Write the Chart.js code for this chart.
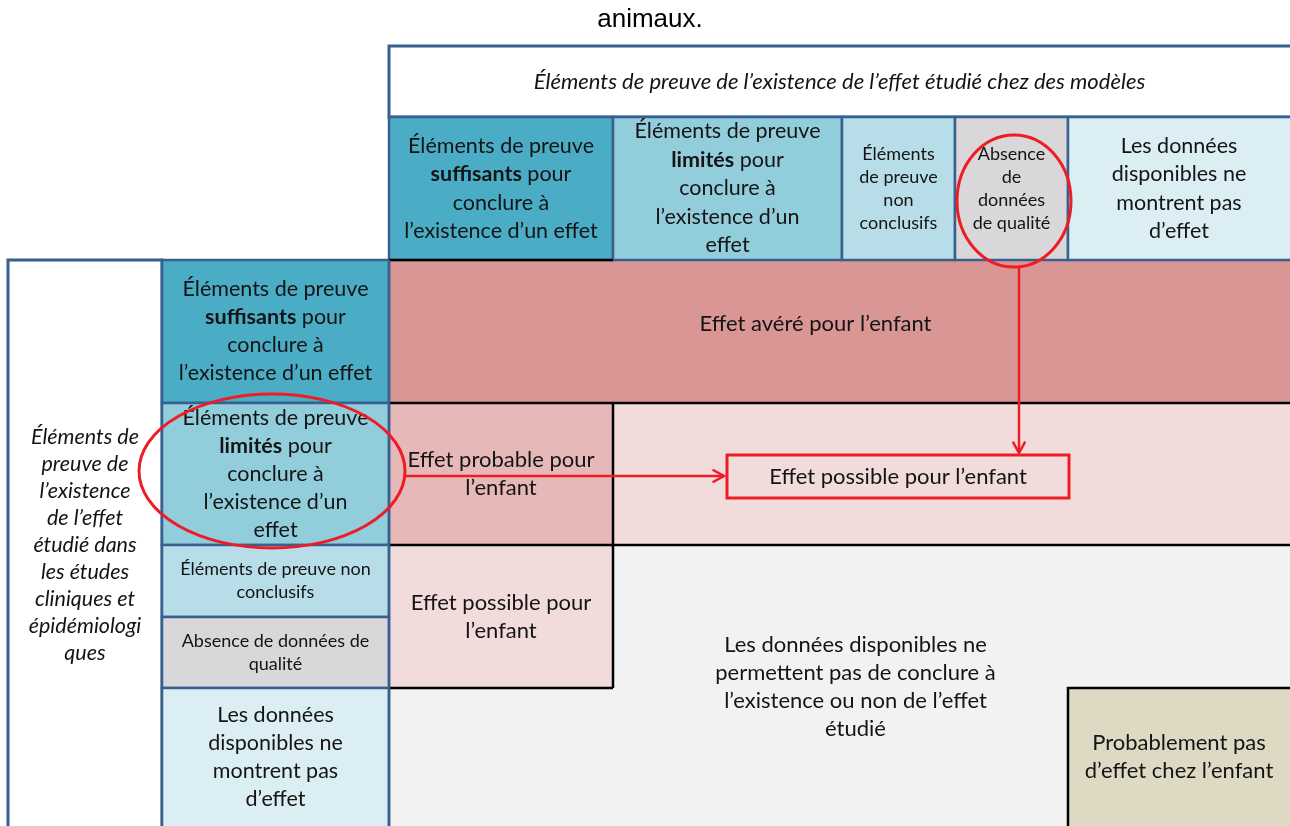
<!doctype html>
<html>
<head>
<meta charset="utf-8">
<title>Conclusion sur l'effet pour l'enfant</title>
<script src="https://cdn.jsdelivr.net/npm/chart.js@4/dist/chart.umd.min.js"></script>
<style>
html, body { margin: 0; padding: 0; background: #fff; }
canvas { display: block; }
</style>
</head>
<body>
<canvas id="canvas" width="1290" height="826"></canvas>
<script>
// ---- texts (data) ----
var pageTitle = 'animaux.';
var animalAxisTitle = 'Éléments de preuve de l’existence de l’effet étudié chez des modèles';
var humanAxisTitle = ['Éléments de', 'preuve de', 'l’existence', 'de l’effet', 'étudié dans',
    'les études', 'cliniques et', 'épidémiologi', 'ques'];

// levels of evidence, *word* = bold
var animalLevels = [
    ['Éléments de preuve', '*suffisants* pour', 'conclure à', 'l’existence d’un effet'],
    ['Éléments de preuve', '*limités* pour', 'conclure à', 'l’existence d’un', 'effet'],
    ['Éléments', 'de preuve', 'non', 'conclusifs'],
    ['Absence', 'de', 'données', 'de qualité'],
    ['Les données', 'disponibles ne', 'montrent pas', 'd’effet']
];
var humanLevels = [
    ['Éléments de preuve', '*suffisants* pour', 'conclure à', 'l’existence d’un effet'],
    ['Éléments de preuve', '*limités* pour', 'conclure à', 'l’existence d’un', 'effet'],
    ['Éléments de preuve non', 'conclusifs'],
    ['Absence de données de', 'qualité'],
    ['Les données', 'disponibles ne', 'montrent pas', 'd’effet']
];
var levelSmall = [false, false, true, true, false];

// conclusions: animal columns [from, to], human rows [from, to]
var conclusionTexts = [
    ['Effet avéré pour l’enfant'],
    ['Effet probable pour', 'l’enfant'],
    [],
    ['Effet possible pour', 'l’enfant'],
    ['Les données disponibles ne', 'permettent pas de conclure à', 'l’existence ou non de l’effet', 'étudié'],
    ['Probablement pas', 'd’effet chez l’enfant']
];
var conclusionCols = [[0, 4], [0, 0], [1, 4], [0, 0], [1, 3], [4, 4]];
var conclusionRows = [[0, 0], [1, 1], [1, 1], [2, 3], [2, 4], [4, 4]];
var highlightText = ['Effet possible pour l’enfant'];

// ---- layout & styles ----
var layout = {
    xEdges: [8, 162, 389, 613, 842, 955, 1068, 1290],   // axis title, row levels, 5 columns
    yEdges: [46, 117, 260, 403, 545, 617, 688, 826],    // title, column levels, 5 rows
    highlightBox: [727, 455, 1069, 498],
    ellipses: [[1014, 201, 57, 66], [272, 471, 133, 77]],
    labelShift: [[-24, -8], [0, 0], [0, 0], [0, 0], [15, 1], [0, 0]]
};
var levelFills = ['#4bacc6', '#92cddc', '#b7dee8', '#d9d7d9', '#daeef3'];
var conclusionFills = ['#d99694', '#e6b9b8', '#f2dcdb', '#f2dcdb', null, '#ddd9c3'];
var bodyFill = '#f2f2f2';
var blue = '#37608f';
var red = '#ee1c25';
var FONT = 'Lato, "Open Sans", sans-serif';

// arrows (drawn as line datasets)
var arrowDown = [{x: 1019, y: 268}, {x: 1019, y: 453}];
var arrowRight = [{x: 405, y: 476}, {x: 724, y: 476}];

function drawRich(ctx, line, cx, y, size, italic) {
    var parts = line.split('*');
    var fonts = [], widths = [], total = 0;
    parts.forEach(function(p, i) {
        fonts.push((italic ? 'italic ' : '') + (i % 2 ? 'bold ' : '') + size + 'px ' + FONT);
        ctx.font = fonts[i];
        var w = ctx.measureText(p).width;
        widths.push(w);
        total += w;
    });
    var x = cx - total / 2;
    ctx.textAlign = 'left';
    ctx.textBaseline = 'middle';
    parts.forEach(function(p, i) {
        ctx.font = fonts[i];
        ctx.fillText(p, x, y);
        x += widths[i];
    });
}

function drawBlock(ctx, lines, cx, cy, size, lh, italic) {
    var y0 = cy - (lines.length - 1) * lh / 2;
    ctx.fillStyle = '#141414';
    lines.forEach(function(l, i) {
        drawRich(ctx, l, cx, y0 + i * lh, size, italic);
    });
}

var matrixPlugin = {
    id: 'matrix',
    beforeDatasetsDraw: function(chart) {
        var ctx = chart.ctx;
        var sx = chart.scales.x, sy = chart.scales.y;
        var X = function(v) { return sx.getPixelForValue(v); };
        var Y = function(v) { return sy.getPixelForValue(v); };
        var xe = layout.xEdges, ye = layout.yEdges;
        var rect = function(x0, y0, x1, y1) { return [X(x0), Y(y0), X(x1) - X(x0), Y(y1) - Y(y0)]; };

        ctx.save();
        // page title
        ctx.fillStyle = '#000';
        ctx.font = '26px "Liberation Sans", Arial, sans-serif';
        ctx.textAlign = 'center';
        ctx.textBaseline = 'middle';
        ctx.fillText(pageTitle, X(650), Y(20));

        // body background
        ctx.fillStyle = bodyFill;
        ctx.fillRect.apply(ctx, rect(xe[2], ye[2], xe[7], ye[7]));

        // conclusion cells
        conclusionTexts.forEach(function(t, i) {
            var c = conclusionCols[i], r = conclusionRows[i];
            var x0 = xe[2 + c[0]], x1 = xe[3 + c[1]], y0 = ye[2 + r[0]], y1 = ye[3 + r[1]];
            if (conclusionFills[i]) {
                ctx.fillStyle = conclusionFills[i];
                ctx.fillRect.apply(ctx, rect(x0, y0, x1, y1));
            }
        });

        // title boxes
        ctx.fillStyle = '#fff';
        ctx.strokeStyle = blue;
        ctx.lineWidth = 3;
        var tb = rect(xe[2], ye[0], xe[7] + 4, ye[1]);
        ctx.fillRect.apply(ctx, tb);
        ctx.strokeRect.apply(ctx, tb);
        var lb = rect(xe[0], ye[2], xe[1], ye[7] + 4);
        ctx.fillRect.apply(ctx, lb);
        ctx.strokeRect.apply(ctx, lb);

        // level cells (columns then rows)
        ctx.lineWidth = 2.5;
        levelFills.forEach(function(f, i) {
            var a = rect(xe[2 + i], ye[1], xe[3 + i], ye[2]);
            if (i === 4) a[2] += 4;
            ctx.fillStyle = f;
            ctx.fillRect.apply(ctx, a);
            ctx.strokeRect.apply(ctx, a);
            var b = rect(xe[1], ye[2 + i], xe[2], ye[3 + i]);
            if (i === 4) b[3] += 4;
            ctx.fillRect.apply(ctx, b);
            ctx.strokeRect.apply(ctx, b);
        });

        // black outlines of the conclusion zones
        ctx.strokeStyle = '#000';
        ctx.lineWidth = 2.5;
        var segs = [
            [[xe[2], ye[2]], [xe[3], ye[2]]],
            [[xe[2], ye[3]], [xe[7] + 4, ye[3]]],
            [[xe[2], ye[4]], [xe[7] + 4, ye[4]]],
            [[xe[3], ye[3]], [xe[3], ye[6]]],
            [[xe[2], ye[6]], [xe[3], ye[6]]],
            [[xe[6], ye[7] + 4], [xe[6], ye[6]], [xe[7] + 4, ye[6]]]
        ];
        segs.forEach(function(s) {
            ctx.beginPath();
            s.forEach(function(p, k) {
                if (k === 0) ctx.moveTo(X(p[0]), Y(p[1])); else ctx.lineTo(X(p[0]), Y(p[1]));
            });
            ctx.stroke();
        });
        // left edge of the body in blue
        ctx.strokeStyle = blue;
        ctx.beginPath();
        ctx.moveTo(X(xe[2]), Y(ye[2]));
        ctx.lineTo(X(xe[2]), Y(ye[7] + 4));
        ctx.stroke();

        // texts
        drawBlock(ctx, [animalAxisTitle], X((xe[2] + xe[7]) / 2), Y((ye[0] + ye[1]) / 2), 22, 27, true);
        drawBlock(ctx, humanAxisTitle, X((xe[0] + xe[1]) / 2), Y((ye[2] + ye[7]) / 2 + 2), 21.5, 27, true);
        animalLevels.forEach(function(lines, i) {
            var s = levelSmall[i];
            drawBlock(ctx, lines, X((xe[2 + i] + xe[3 + i]) / 2), Y((ye[1] + ye[2]) / 2), s ? 18 : 21.5, s ? 23 : 28.5, false);
        });
        humanLevels.forEach(function(lines, i) {
            var s = levelSmall[i];
            drawBlock(ctx, lines, X((xe[1] + xe[2]) / 2), Y((ye[2 + i] + ye[3 + i]) / 2), s ? 18 : 21.5, s ? 23 : 28, false);
        });
        conclusionTexts.forEach(function(t, i) {
            var c = conclusionCols[i], r = conclusionRows[i], sh = layout.labelShift[i];
            var cx = (xe[2 + c[0]] + xe[3 + c[1]]) / 2 + sh[0];
            var cy = (ye[2 + r[0]] + ye[3 + r[1]]) / 2 + sh[1];
            drawBlock(ctx, t, X(cx), Y(cy), 22, 28, false);
        });
        ctx.restore();
    },
    afterDatasetsDraw: function(chart) {
        var ctx = chart.ctx;
        var sx = chart.scales.x, sy = chart.scales.y;
        var X = function(v) { return sx.getPixelForValue(v); };
        var Y = function(v) { return sy.getPixelForValue(v); };
        ctx.save();
        ctx.strokeStyle = red;
        ctx.lineWidth = 3;
        // highlighted result box
        var hb = layout.highlightBox;
        ctx.strokeRect(X(hb[0]), Y(hb[1]), X(hb[2]) - X(hb[0]), Y(hb[3]) - Y(hb[1]));
        drawBlock(ctx, highlightText, X((hb[0] + hb[2]) / 2), Y((hb[1] + hb[3]) / 2), 22, 28, false);
        // ellipses
        ctx.strokeStyle = red;
        ctx.lineWidth = 3;
        layout.ellipses.forEach(function(e) {
            ctx.beginPath();
            ctx.ellipse(X(e[0]), Y(e[1]), X(e[0] + e[2]) - X(e[0]), Y(e[1] + e[3]) - Y(e[1]), 0, 0, Math.PI * 2);
            ctx.stroke();
        });
        // open arrow heads at the end of each arrow dataset
        ctx.lineWidth = 2.5;
        chart.data.datasets.forEach(function(ds, i) {
            var pts = chart.getDatasetMeta(i).data;
            var a = pts[pts.length - 2], b = pts[pts.length - 1];
            var ang = Math.atan2(b.y - a.y, b.x - a.x), L = 13;
            ctx.beginPath();
            ctx.moveTo(b.x - L * Math.cos(ang - 0.5), b.y - L * Math.sin(ang - 0.5));
            ctx.lineTo(b.x, b.y);
            ctx.lineTo(b.x - L * Math.cos(ang + 0.5), b.y - L * Math.sin(ang + 0.5));
            ctx.stroke();
        });
        ctx.restore();
    }
};

new Chart(document.getElementById('canvas'), {
    type: 'scatter',
    data: {
        datasets: [
            {data: arrowDown, showLine: true, borderColor: red, borderWidth: 2.5, pointRadius: 0},
            {data: arrowRight, showLine: true, borderColor: red, borderWidth: 2.5, pointRadius: 0}
        ]
    },
    options: {
        responsive: false,
        animation: false,
        devicePixelRatio: 1,
        layout: {padding: 0},
        plugins: {legend: {display: false}, tooltip: {enabled: false}, title: {display: false}},
        scales: {
            x: {type: 'linear', min: 0, max: 1290, display: false},
            y: {type: 'linear', min: 0, max: 826, reverse: true, display: false}
        }
    },
    plugins: [matrixPlugin]
});
</script>
</body>
</html>
